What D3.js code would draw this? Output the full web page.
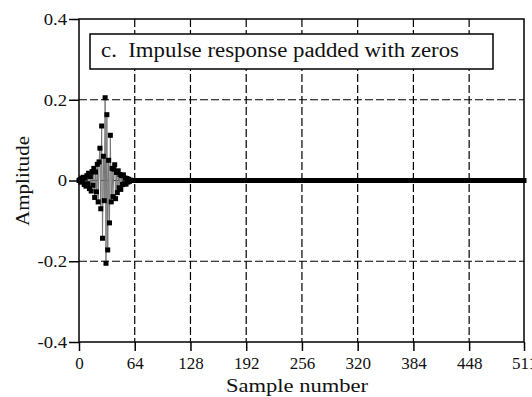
<!DOCTYPE html>
<html>
<head>
<meta charset="utf-8">
<script src="https://cdn.jsdelivr.net/npm/d3@7/dist/d3.min.js"></script>
<style>
  html, body { margin: 0; padding: 0; background: #ffffff; }
  svg { display: block; }
  svg text { font-family: "Liberation Serif", "DejaVu Serif", serif !important; fill: #111; }
</style>
</head>
<body>
<svg id="chart" width="532" height="397"></svg>
<script>
// Filter kernel (samples 0..60); everything after it is zero padding.
const kernel = [
  0.000, 0.002, -0.004, 0.006, -0.003, 0.008, -0.010, 0.006, -0.014, 0.012,
  -0.008, 0.018, -0.020, 0.010, -0.026, 0.022, -0.012, 0.030, -0.042, 0.021,
  -0.028, 0.040, -0.053, 0.046, 0.080, -0.070, 0.135, -0.143, 0.060, -0.050,
  0.205, -0.205, 0.163, -0.172, 0.050, -0.105, 0.112, -0.053, 0.030, -0.040,
  0.028, 0.039, -0.045, 0.020, -0.030, 0.024, -0.018, 0.015, -0.022, 0.012,
  -0.010, 0.014, -0.008, 0.006, -0.009, 0.005, -0.004, 0.003, -0.002, 0.001,
  0.000
];
const paddedLength = 512;
const xTicks = [0, 64, 128, 192, 256, 320, 384, 448, 511];
const yTicks = [-0.4, -0.2, 0, 0.2, 0.4];
const yTickLabels = ["-0.4", "-0.2", "0", "0.2", "0.4"];
const titleText = "c.  Impulse response padded with zeros";
const xLabel = "Sample number";
const yLabel = "Amplitude";

// Zero-padded signal: the kernel followed by zeros out to 512 samples.
const samples = [];
for (let n = 0; n < paddedLength; n++) {
  samples.push({ n, v: n < kernel.length ? kernel[n] : 0 });
}

const svg = d3.select("#chart");
const plot = { left: 79, right: 524, top: 19, bottom: 342 };
const yTickStretch = 1.1; // y tick glyphs drawn slightly wide

const x = d3.scaleLinear().domain([0, 511]).range([plot.left, plot.right]);
const y = d3.scaleLinear().domain([-0.4, 0.4]).range([plot.bottom, plot.top]);

// Dashed grid
const grid = svg.append("g");
grid.selectAll("line.vx").data(xTicks.slice(1, -1)).join("line")
  .attr("x1", d => x(d)).attr("x2", d => x(d))
  .attr("y1", plot.top).attr("y2", plot.bottom)
  .attr("stroke", "#000").attr("stroke-width", 1.2).attr("stroke-dasharray", "8,3");
grid.selectAll("line.hy").data(yTicks.slice(1, -1)).join("line")
  .attr("x1", plot.left).attr("x2", plot.right)
  .attr("y1", d => y(d)).attr("y2", d => y(d))
  .attr("stroke", "#000").attr("stroke-width", 1.2).attr("stroke-dasharray", "8,3");

// Axes with outward ticks
const xAxis = d3.axisBottom(x).tickValues(xTicks).tickSize(9).tickPadding(6).tickFormat(d3.format("d"));
const yAxis = d3.axisLeft(y).tickValues(yTicks).tickSize(10).tickPadding(2)
  .tickFormat((d, i) => yTickLabels[i]);

const gx = svg.append("g").attr("transform", `translate(0,${plot.bottom})`).call(xAxis);
const gy = svg.append("g").attr("transform", `translate(${plot.left},0)`).call(yAxis);
[gx, gy].forEach(g => {
  g.attr("font-family", null).attr("font-size", null);
  g.select(".domain").remove();
  g.selectAll(".tick line").attr("stroke", "#000").attr("stroke-width", 1.5);
  g.selectAll(".tick text").attr("font-size", 17).attr("fill", "#111");
});
gx.selectAll(".tick text").attr("dy", null).attr("y", 27);
gy.selectAll(".tick text").each(function () {
  const t = d3.select(this);
  const xx = +t.attr("x");
  t.attr("transform", `translate(${xx},0) scale(${yTickStretch},1) translate(${-xx},0)`);
});

// Frame
svg.append("rect")
  .attr("x", plot.left).attr("y", plot.top)
  .attr("width", plot.right - plot.left).attr("height", plot.bottom - plot.top)
  .attr("fill", "none").attr("stroke", "#000").attr("stroke-width", 1.5);

// Signal: thin connecting line plus square markers
const line = d3.line().x(d => x(d.n)).y(d => y(d.v));
svg.append("path").datum(samples)
  .attr("d", line).attr("fill", "none").attr("stroke", "#777").attr("stroke-width", 1);
const m = 5;
svg.append("g").selectAll("rect").data(samples).join("rect")
  .attr("x", d => x(d.n) - m / 2).attr("y", d => y(d.v) - m / 2)
  .attr("width", m).attr("height", m).attr("fill", "#000");

// Title box
svg.append("rect")
  .attr("x", 90).attr("y", 34).attr("width", 403).attr("height", 35)
  .attr("fill", "#fff").attr("stroke", "#000").attr("stroke-width", 1.5);
svg.append("text")
  .attr("x", 101).attr("y", 57)
  .attr("font-size", 20)
  .attr("textLength", 358).attr("lengthAdjust", "spacingAndGlyphs")
  .style("white-space", "pre")
  .text(titleText);

// Axis titles
svg.append("text")
  .attr("x", 297).attr("y", 392)
  .attr("text-anchor", "middle").attr("font-size", 19)
  .attr("textLength", 142).attr("lengthAdjust", "spacingAndGlyphs")
  .text(xLabel);
svg.append("text")
  .attr("transform", "translate(29,181) rotate(-90)")
  .attr("text-anchor", "middle").attr("font-size", 19)
  .attr("textLength", 90).attr("lengthAdjust", "spacingAndGlyphs")
  .text(yLabel);
</script>
</body>
</html>
